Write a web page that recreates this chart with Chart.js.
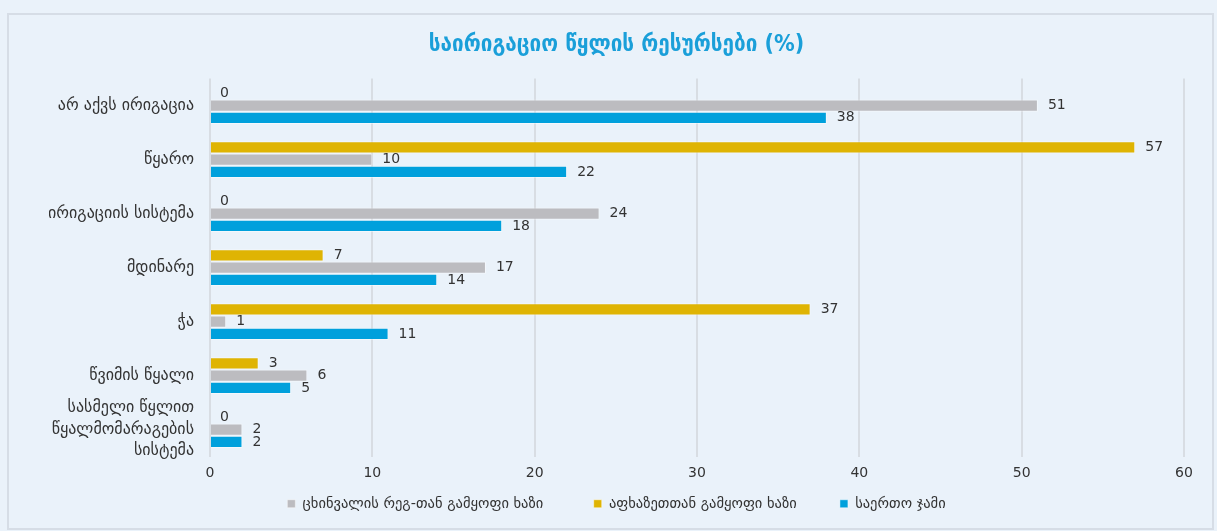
<!DOCTYPE html>
<html lang="ka">
  <head>
    <meta charset="UTF-8" />
    <title>საირიგაციო წყლის რესურსები</title>
    <script src="https://cdn.jsdelivr.net/npm/chart.js"></script>
    <style>
      html, body { margin: 0; padding: 0; background: #eaf2fa; }
      .panel {
        position: absolute; left: 7px; top: 13px;
        width: 1203px; height: 513px;
        border: 2px solid #d6dde6; background: #eaf2fa;
      }
      canvas { display: block; }
    </style>
  </head>
  <body>
    <div class="panel"><canvas id="chart" width="1203" height="513"></canvas></div>

    <script>
      // categories (y axis)
      const categories = [
        "არ აქვს ირიგაცია",
        "წყარო",
        "ირიგაციის სისტემა",
        "მდინარე",
        "ჭა",
        "წვიმის წყალი",
        ["სასმელი წყლით", "წყალმომარაგების", "სისტემა"],
      ];

      // series values (%)
      const abkhaziaLine = [0, 57, 0, 7, 37, 3, 0];
      const tskhinvaliLine = [51, 10, 24, 17, 1, 6, 2];
      const totalSum = [38, 22, 18, 14, 11, 5, 2];

      const seriesNames = [
        "აფხაზეთთან გამყოფი ხაზი",
        "ცხინვალის რეგ-თან გამყოფი ხაზი",
        "საერთო ჯამი",
      ];
      const legendOrder = [1, 0, 2];
      // extra space after each legend entry (Excel spreads them out)
      const legendGaps = ["\u2003\u2003\u2002", "\u2003\u2003\u2003", ""];
      const xTicks = [0, 10, 20, 30, 40, 50, 60];

      const FONT = "'DejaVu Sans', sans-serif";

      // value labels to the right of each bar
      const valueLabels = {
        id: "valueLabels",
        afterDatasetsDraw(chart) {
          const ctx = chart.ctx;
          ctx.save();
          ctx.font = "14px " + FONT;
          ctx.fillStyle = "#333";
          ctx.textBaseline = "middle";
          chart.data.datasets.forEach((ds, i) => {
            const meta = chart.getDatasetMeta(i);
            meta.data.forEach((bar, j) => {
              ctx.fillText(String(ds.data[j]), bar.x + 10, bar.y);
            });
          });
          ctx.restore();
        },
      };

      const ctx = document.getElementById("chart").getContext("2d");
      new Chart(ctx, {
        type: "bar",
        data: {
          labels: categories,
          datasets: [
            {
              label: seriesNames[0],
              data: abkhaziaLine,
              backgroundColor: "#dfb403",
              borderColor: "rgba(255,255,255,0.45)",
              borderWidth: 1,
            },
            {
              label: seriesNames[1],
              data: tskhinvaliLine,
              backgroundColor: "#bcbcc0",
              borderColor: "rgba(255,255,255,0.45)",
              borderWidth: 1,
            },
            {
              label: seriesNames[2],
              data: totalSum,
              backgroundColor: "#00a0dc",
              borderColor: "rgba(255,255,255,0.45)",
              borderWidth: 1,
            },
          ],
        },
        options: {
          indexAxis: "y",
          responsive: false,
          animation: false,
          datasets: {
            bar: { barPercentage: 1, categoryPercentage: 0.68 },
          },
          layout: { padding: { left: 40, right: 28, top: 0, bottom: 7 } },
          plugins: {
            title: {
              display: true,
              text: "საირიგაციო წყლის რესურსები (%)",
              color: "#1a9fd9",
              font: { family: "'DejaVu Sans Condensed', " + FONT, size: 23, weight: "bold" },
              padding: { top: 16, bottom: 20 },
            },
            legend: {
              position: "bottom",
              labels: {
                boxWidth: 8,
                boxHeight: 8,
                color: "#333",
                padding: 7,
                font: { family: FONT, size: 14.5 },
                generateLabels: (chart) =>
                  Chart.defaults.plugins.legend.labels.generateLabels(chart).map((item) => {
                    item.text += legendGaps[item.datasetIndex];
                    return item;
                  }),
                sort: (a, b) => legendOrder.indexOf(a.datasetIndex) - legendOrder.indexOf(b.datasetIndex),
              },
            },
            tooltip: { enabled: false },
          },
          scales: {
            x: {
              min: 0,
              max: 60,
              afterBuildTicks: (scale) => { scale.ticks = xTicks.map((v) => ({ value: v })); },
              grid: { color: "#d8dde3", lineWidth: 2, drawTicks: false },
              border: { display: false },
              ticks: { color: "#333", font: { family: FONT, size: 14 }, padding: 8 },
            },
            y: {
              grid: { display: false },
              border: { display: false },
              afterFit: (scale) => { scale.width = 161; },
              ticks: {
                color: "#333",
                font: { family: FONT, size: 16, lineHeight: 1.35 },
                padding: 8,
                autoSkip: false,
              },
            },
          },
        },
        plugins: [valueLabels],
      });
    </script>
  </body>
</html>
